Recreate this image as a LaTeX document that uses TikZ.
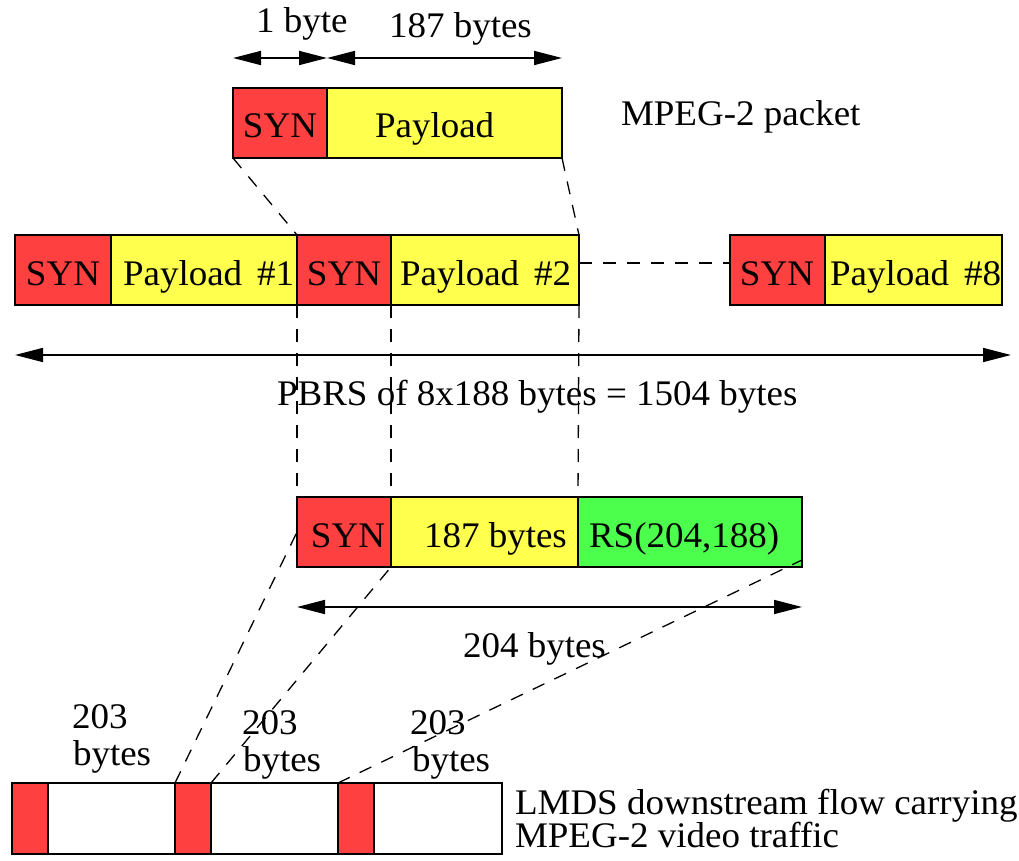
\documentclass[tikz,border=0pt]{standalone}
\usepackage{fontspec}
\setmainfont[FakeStretch=1.028]{Liberation Serif}
\usetikzlibrary{arrows.meta}
\definecolor{synred}{RGB}{255,64,64}
\definecolor{payyellow}{RGB}{255,255,77}
\definecolor{rsgreen}{RGB}{77,255,77}
\newcommand{\gapsp}{\hspace{15pt}}
\begin{document}
\begin{tikzpicture}[x=1pt,y=-1pt,
  cell/.style={draw=black,line width=1.6pt,inner sep=0pt,outer sep=0pt,
    anchor=north west,minimum height=70pt},
  lbl/.style={inner sep=0pt,outer sep=0pt,anchor=base,font=\fontsize{36}{38}\selectfont},
  lblw/.style={lbl,anchor=base west},
  guide/.style={dashed,line width=1.3pt,dash pattern=on 13pt off 11pt},
  span/.style={line width=1.6pt,{Triangle[length=28pt,width=14pt]}-{Triangle[length=28pt,width=14pt]}}
]
\useasboundingbox (0,0) rectangle (1019,861);

% single MPEG-2 packet
\node[cell,fill=synred,minimum width=94pt] (tsyn) at (233,88) {};
\node[cell,fill=payyellow,minimum width=235pt] (tpay) at (327,88) {};
\node[lbl] (tsynT) at (280,138) {SYN};
\node[lblw] (tpayT) at (375,138) {Payload};
\node[lblw] (mpeg) at (621,126) {MPEG-2 packet};

% byte counts above the packet
\coordinate (ta) at (233,58);
\coordinate (tb) at (327,58);
\coordinate (tc) at (562,58);
\draw[span] (ta) -- (tb);
\draw[span] (tb) -- (tc);
\node[lblw] (onebyte) at (256,33) {1 byte};
\node[lblw] (l187) at (389,38) {187 bytes};

% PBRS row of eight packets
\node[cell,fill=synred,minimum width=96pt] (s1) at (15,235) {};
\node[cell,fill=payyellow,minimum width=186pt] (p1) at (111,235) {};
\node[cell,fill=synred,minimum width=94pt] (s2) at (297,235) {};
\node[cell,fill=payyellow,minimum width=188pt] (p2) at (391,235) {};
\node[cell,fill=synred,minimum width=95pt] (s8) at (730,235) {};
\node[cell,fill=payyellow,minimum width=177pt] (p8) at (825,235) {};
\node[lbl] (s1T) at (63,285) {SYN};
\node[lblw] (p1T) at (123,285) {Payload\gapsp\#1};
\node[lbl] (s2T) at (344,285) {SYN};
\node[lblw] (p2T) at (400,285) {Payload\gapsp\#2};
\node[lbl] (s8T) at (777,285) {SYN};
\node[lblw] (p8T) at (830,285) {Payload\gapsp\#8};

\coordinate (pa) at (15,355);
\coordinate (pb) at (1011,355);
\draw[span] (pa) -- (pb);
\node[lblw] (pbrs) at (277,405) {PBRS of 8x188 bytes = 1504 bytes};

% RS-coded packet
\node[cell,fill=synred,minimum width=94pt] (s3) at (297,497) {};
\node[cell,fill=payyellow,minimum width=187pt] (p3) at (391,497) {};
\node[cell,fill=rsgreen,minimum width=224pt] (rs) at (578,497) {};
\node[lbl] (s3T) at (348,547) {SYN};
\node[lblw] (p3T) at (424,547) {187 bytes};
\node[lblw] (rsT) at (589,547) {RS(204,188)};

\coordinate (ra) at (297,607);
\coordinate (rb) at (802,607);
\draw[span] (ra) -- (rb);
\node[lblw] (l204) at (463,657) {204 bytes};

% LMDS downstream flow
\node[cell,fill=white,minimum width=490pt,minimum height=71pt] (bar) at (12,783) {};
\node[cell,fill=synred,minimum width=36pt,minimum height=71pt] (r1) at (12,783) {};
\node[cell,fill=synred,minimum width=36pt,minimum height=71pt] (r2) at (175,783) {};
\node[cell,fill=synred,minimum width=36pt,minimum height=71pt] (r3) at (338,783) {};
\node[lblw] (n1a) at (72,728) {203};
\node[lblw] (n1b) at (73,765) {bytes};
\node[lblw] (n2a) at (242,734) {203};
\node[lblw] (n2b) at (243,771) {bytes};
\node[lblw] (n3a) at (410,734) {203};
\node[lblw] (n3b) at (412,771) {bytes};
\node[lblw] (lmds1) at (515,814) {LMDS downstream flow carrying};
\node[lblw] (lmds2) at (515,847) {MPEG-2 video traffic};

% dashed guide lines
\draw[guide] (tsyn.south west) -- (s2.north west);
\draw[guide] (tpay.south east) -- (p2.north east);
\draw[guide] ([yshift=7pt]p2.east) -- ([yshift=7pt]s8.west);
\draw[guide] (s2.south west) -- (s3.north west);
\draw[guide] (p2.south west) -- (p3.north west);
\draw[guide] (p2.south east) -- (p3.north east);
\draw[guide] (r2.north west) -- (s3.west);
\draw[guide] (r2.north east) -- (s3.south east);
\draw[guide] (r3.north west) -- ([yshift=-28pt]rs.east);
\end{tikzpicture}
\end{document}
